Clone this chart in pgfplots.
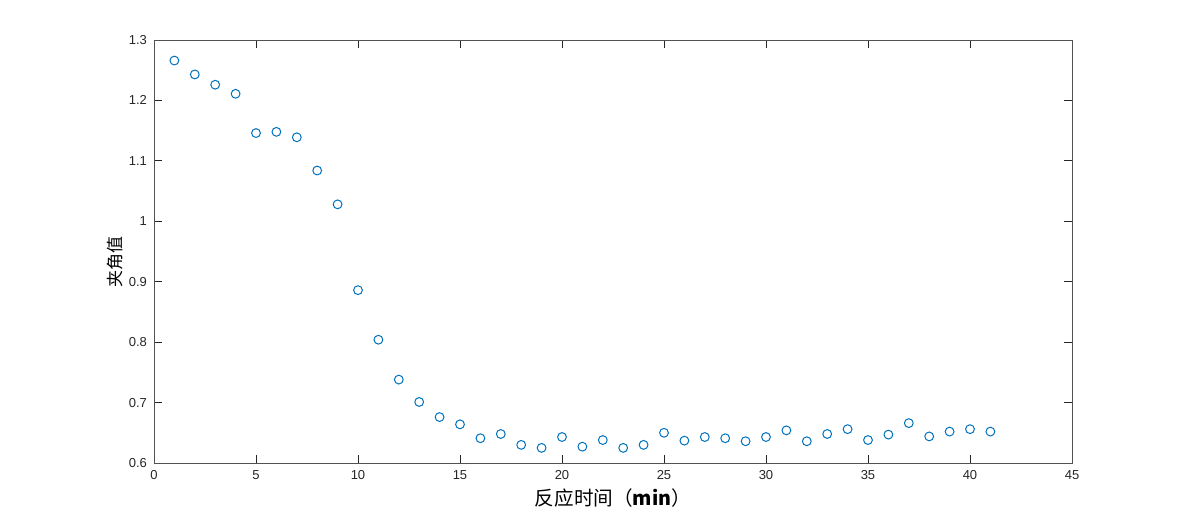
\documentclass[border=0pt]{standalone}
\usepackage{pgfplots}
\pgfplotsset{compat=1.18}
\usepackage{fontspec}
\setmainfont{Liberation Sans}
\newfontfamily\cjk{Noto Sans CJK SC}
\definecolor{mblue}{rgb}{0,0.447,0.741}
\definecolor{axgray}{rgb}{0.15,0.15,0.15}
\begin{document}
\begin{tikzpicture}[x=0.5pt,y=0.5pt]
% page frame: 1183 x 520 px, axis lower-left at (154,463)
\path (-154,-57) rectangle (1029,463);
\begin{axis}[
    at={(0,0)}, anchor=origin,
    scale only axis,
    width=459pt, height=211.5pt,
    xmin=0, xmax=45, ymin=0.6, ymax=1.3,
    xtick={0,5,...,45},
    ytick={0.6,0.7,...,1.3},
    yticklabels={0.6,0.7,0.8,0.9,1,1.1,1.2,1.3},
    tick align=inside,
    major tick length=4pt,
    axis line style={axgray!80, line width=0.4pt},
    every tick/.style={axgray, line width=0.4pt},
    tick label style={font=\fontsize{6.5}{7}\selectfont, text=axgray},
    /pgf/number format/assume math mode=true,
    xlabel={\cjk 反应时间（\textbf{min}）},
    ylabel={\cjk 夹角值},
    xlabel style={font=\fontsize{9.8}{11}\selectfont, text=black, yshift=2pt},
    ylabel style={font=\fontsize{8.5}{9}\selectfont, text=black, yshift=-4pt, xshift=-5pt},
]
\addplot[only marks, mark=o, mark size=2.2pt, mark options={mblue, line width=0.5pt}] coordinates {
(1,1.266) (2,1.243) (3,1.226) (4,1.211) (5,1.146) (6,1.148) (7,1.139)
(8,1.084) (9,1.028) (10,0.886) (11,0.804) (12,0.738) (13,0.701) (14,0.676)
(15,0.664) (16,0.641) (17,0.648) (18,0.630) (19,0.625) (20,0.643) (21,0.627)
(22,0.638) (23,0.625) (24,0.630) (25,0.650) (26,0.637) (27,0.643) (28,0.641)
(29,0.636) (30,0.643) (31,0.654) (32,0.636) (33,0.648) (34,0.656) (35,0.638)
(36,0.647) (37,0.666) (38,0.644) (39,0.652) (40,0.656) (41,0.652)
};
\end{axis}
\end{tikzpicture}
\end{document}
